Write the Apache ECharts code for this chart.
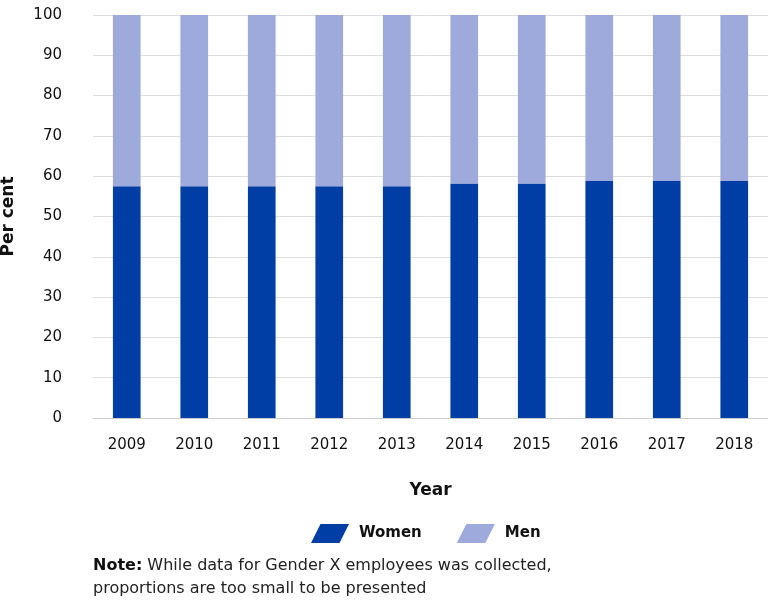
<!DOCTYPE html>
<html>
<head>
<meta charset="utf-8">
<script src="https://cdn.jsdelivr.net/npm/echarts@6/dist/echarts.min.js"></script>
<style>
  html, body { margin: 0; padding: 0; background: #fff; }
  #chart { width: 768px; height: 606px; }
</style>
</head>
<body>
<div id="chart"></div>
<script>
// 年份与各性别占比（%）
const years = ['2009', '2010', '2011', '2012', '2013', '2014', '2015', '2016', '2017', '2018'];
const women = [57.5, 57.5, 57.5, 57.5, 57.5, 58.2, 58.2, 58.8, 58.8, 58.8];
const men = [42.5, 42.5, 42.5, 42.5, 42.5, 41.8, 41.8, 41.2, 41.2, 41.2];
const yTicks = [0, 10, 20, 30, 40, 50, 60, 70, 80, 90, 100];

const font = '"DejaVu Sans", sans-serif';
const chart = echarts.init(document.getElementById('chart'));

const swatch = 'path://M10,0 L40,0 L30,20 L0,20 Z';

chart.setOption({
    animation: false,
    grid: { left: 93, right: 0, top: 15, bottom: 188, containLabel: false, outerBoundsMode: 'none' },
    legend: {
        bottom: 58,
        left: 306,
        itemWidth: 38,
        itemHeight: 19,
        itemGap: 35,
        icon: swatch,
        textStyle: { fontFamily: font, fontSize: 15, fontWeight: 'bold', color: '#111', padding: [0, 0, 0, 5] },
        data: ['Women', 'Men']
    },
    graphic: [{
        type: 'text',
        left: 93,
        top: 558,
        style: {
            rich: {
                b: { fontFamily: font, fontSize: 16, fontWeight: 'bold', fill: '#111', lineHeight: 23 },
                n: { fontFamily: font, fontSize: 16, fill: '#222', lineHeight: 23 }
            },
            text: '{b|Note:}{n| While data for Gender X employees was collected,}\n{n|proportions are too small to be presented}'
        }
    }],
    xAxis: {
        type: 'category',
        data: years,
        name: 'Year',
        nameLocation: 'middle',
        nameGap: 64,
        nameTextStyle: { fontFamily: font, fontSize: 17, fontWeight: 'bold', color: '#111' },
        axisTick: { show: false },
        axisLine: { lineStyle: { color: '#ccc' } },
        axisLabel: { fontFamily: font, fontSize: 15, color: '#111', margin: 20 }
    },
    yAxis: {
        type: 'value',
        min: yTicks[0],
        max: yTicks[yTicks.length - 1],
        interval: 10,
        name: 'Per cent',
        nameLocation: 'middle',
        nameGap: 76,
        nameTextStyle: { fontFamily: font, fontSize: 17, fontWeight: 'bold', color: '#111' },
        axisLabel: { fontFamily: font, fontSize: 15, color: '#111', margin: 31 },
        splitLine: { lineStyle: { color: '#ddd' } }
    },
    series: [
        {
            name: 'Women',
            type: 'bar',
            stack: 'total',
            data: women,
            barWidth: '41%',
            itemStyle: { color: '#003da5' }
        },
        {
            name: 'Men',
            type: 'bar',
            stack: 'total',
            data: men,
            barWidth: '41%',
            itemStyle: { color: '#9eaadb' }
        }
    ]
});
</script>
</body>
</html>
